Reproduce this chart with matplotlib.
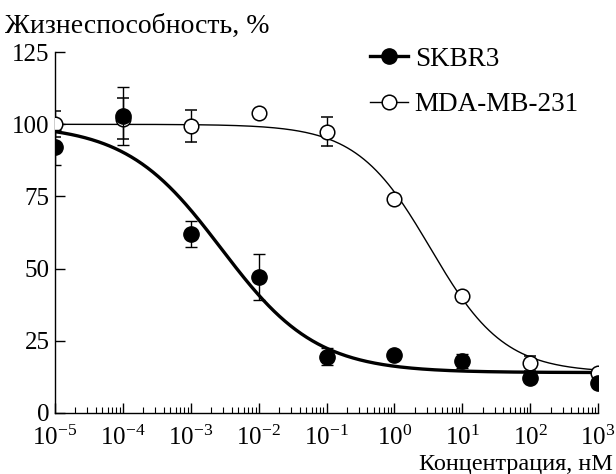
import numpy as np
from matplotlib import pyplot as plt
from matplotlib.ticker import LogLocator, NullFormatter

plt.rcParams['font.family'] = ['Liberation Serif', 'DejaVu Serif']
plt.rcParams['mathtext.fontset'] = 'custom'
plt.rcParams['mathtext.rm'] = 'Liberation Serif'
plt.rcParams['mathtext.it'] = 'Liberation Serif:italic'

conc = [1e-5, 1e-4, 1e-3, 1e-2, 1e-1, 1e0, 1e1, 1e2, 1e3]

skbr3 = [92, 103, 62, 47, 19.5, 20, 18, 12, 10.5]
skbr3_err = [6, 10, 4.5, 8, 3, 0, 2.5, 0, 0]

mda = [100, 102, 99.5, 104, 97.5, 74.3, 40.6, 17.2, 14]
mda_err = [4.5, 7, 5.5, 0, 5, 0, 0, 2.5, 0]

# 4-parameter logistic fits: top, bottom, IC50 (nM), Hill slope
skbr3_fit = (100, 14, 2.8e-3, 0.62)
mda_fit = (100, 14, 3.4, 0.8)

yticks = [0, 25, 50, 75, 100, 125]


def logistic(x, top, bottom, ic50, hill):
    return bottom + (top - bottom) / (1 + (x / ic50) ** hill)


fig = plt.figure(figsize=(6.16, 4.74), dpi=100)
ax = fig.add_axes([0.0893, 0.1287, 0.971 - 0.0893, 0.890 - 0.1287])

xs = np.logspace(-5, 3, 400)
ax.plot(xs, logistic(xs, *mda_fit), color='black', linewidth=1.0, zorder=2)
ax.plot(xs, logistic(xs, *skbr3_fit), color='black', linewidth=2.4, zorder=2)

ax.errorbar(conc, mda, yerr=mda_err, fmt='o', color='black', mfc='white',
            mec='black', mew=1.1, ms=10.5, capsize=4, elinewidth=1.0,
            capthick=1.0, zorder=3)
ax.errorbar(conc, skbr3, yerr=skbr3_err, fmt='o', color='black', mfc='black',
            ms=11, capsize=4, elinewidth=1.0, capthick=1.0, zorder=4)

# legend handles
ax.plot([], [], color='black', linewidth=2.4, marker='o', ms=11, label='SKBR3')
ax.plot([], [], color='black', linewidth=1.0, marker='o', ms=10.5, mfc='white',
        mew=1.1, label='MDA-MB-231')
ax.legend(loc='upper left', bbox_to_anchor=(0.56, 1.045), frameon=False,
          fontsize=19.5, handlelength=1.4, handletextpad=0.25, labelspacing=0.75,
          borderaxespad=0)

ax.set_xscale('log')
ax.set_xlim(1e-5, 1e3)
ax.set_ylim(0, 125)
ax.set_yticks(yticks)
ax.xaxis.set_major_locator(LogLocator(base=10, numticks=20))
ax.xaxis.set_minor_locator(LogLocator(base=10, subs=np.arange(2, 10), numticks=20))
ax.xaxis.set_minor_formatter(NullFormatter())

for side in ('top', 'right'):
    ax.spines[side].set_visible(False)
for side in ('left', 'bottom'):
    ax.spines[side].set_linewidth(1.0)

ax.tick_params(axis='both', which='major', direction='in', length=7, width=1.0,
               labelsize=18, pad=4)
ax.tick_params(axis='x', which='minor', direction='in', length=4, width=0.8)
ax.tick_params(axis='x', which='major', pad=9)

fig.text(0.008, 0.93, 'Жизнеспособность, %', fontsize=20, ha='left', va='baseline')
fig.text(0.995, 0.008, 'Концентрация, нМ', fontsize=17.5, ha='right', va='baseline')

fig.savefig('out.png', dpi=100)
